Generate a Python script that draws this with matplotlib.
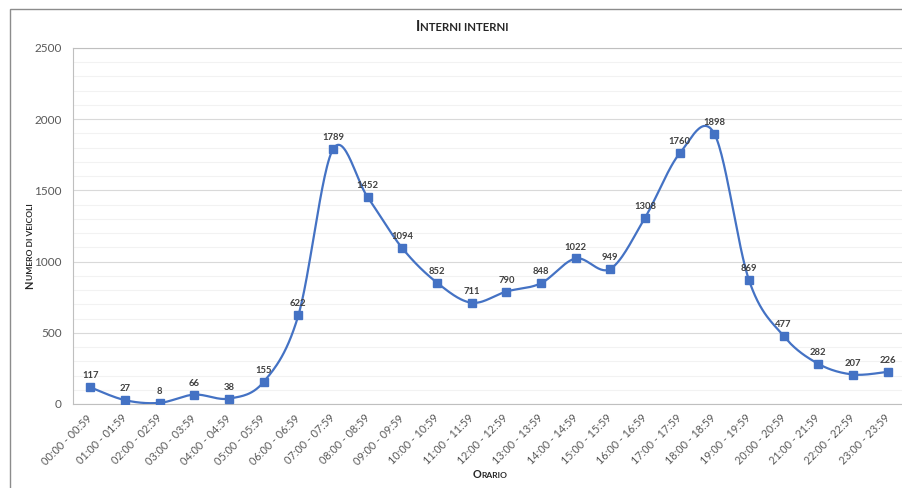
import numpy as np
import matplotlib
matplotlib.use("Agg")
import matplotlib.pyplot as plt
from matplotlib.transforms import IdentityTransform, ScaledTranslation
from matplotlib.patches import Rectangle

plt.rcParams["font.family"] = ["Lato", "DejaVu Sans"]

fasce = [
    "00:00 - 00:59", "01:00 - 01:59", "02:00 - 02:59", "03:00 - 03:59",
    "04:00 - 04:59", "05:00 - 05:59", "06:00 - 06:59", "07:00 - 07:59",
    "08:00 - 08:59", "09:00 - 09:59", "10:00 - 10:59", "11:00 - 11:59",
    "12:00 - 12:59", "13:00 - 13:59", "14:00 - 14:59", "15:00 - 15:59",
    "16:00 - 16:59", "17:00 - 17:59", "18:00 - 18:59", "19:00 - 19:59",
    "20:00 - 20:59", "21:00 - 21:59", "22:00 - 22:59", "23:00 - 23:59",
]
veicoli = [117, 27, 8, 66, 38, 155, 622, 1789, 1452, 1094, 852, 711,
           790, 848, 1022, 949, 1308, 1760, 1898, 869, 477, 282, 207, 226]

titolo = "Interni interni"
label_x = "Orario"
label_y = "Numero di veicoli"

BLUE = "#4472C4"


def smooth(x, y, n=30):
    # Excel-like smoothed line (Catmull-Rom through every point)
    x = np.asarray(x, float)
    y = np.asarray(y, float)
    px = np.concatenate([[x[0]], x, [x[-1]]])
    py = np.concatenate([[y[0]], y, [y[-1]]])
    xs, ys = [], []
    t = np.linspace(0, 1, n)
    for i in range(1, len(px) - 2):
        p0, p1, p2, p3 = [np.array([px[j], py[j]]) for j in range(i - 1, i + 3)]
        c1 = p1 + (p2 - p0) / 6
        c2 = p2 - (p3 - p1) / 6
        pts = ((1 - t) ** 3)[:, None] * p1 + (3 * (1 - t) ** 2 * t)[:, None] * c1 \
            + (3 * (1 - t) * t ** 2)[:, None] * c2 + (t ** 3)[:, None] * p2
        xs.extend(pts[:, 0])
        ys.extend(pts[:, 1])
    return np.array(xs), np.array(ys)


def smallcaps(fig, x, y, text, size, rotation=0, color="#262626"):
    # draw text in small caps, centred on (x, y) in pixels
    runs = []
    for ch in text:
        big = ch.isupper()
        if runs and runs[-1][1] == big:
            runs[-1][0] += ch.upper()
        else:
            runs.append([ch.upper(), big])
    renderer = fig.canvas.get_renderer()
    widths = []
    for s, big in runs:
        t = fig.text(0, 0, s, fontsize=size if big else size * 0.78,
                     fontweight="bold", transform=IdentityTransform())
        widths.append(t.get_window_extent(renderer).width)
        t.remove()
    total = sum(widths)
    pos = -total / 2
    for (s, big), w in zip(runs, widths):
        if rotation == 0:
            px, py = x + pos, y
        else:
            px, py = x, y + pos
        fig.text(px, py, s, fontsize=size if big else size * 0.78,
                 fontweight="bold", color=color, rotation=rotation,
                 rotation_mode="anchor", ha="left", va="baseline",
                 transform=IdentityTransform())
        pos += w


W, H = 903, 488
fig = plt.figure(figsize=(W / 100, H / 100), dpi=100)
ax = fig.add_axes([73 / W, 1 - 404 / H, (905 - 73) / W, (404 - 48) / H])

xs = np.arange(len(veicoli))
sx, sy = smooth(xs, veicoli)
ax.plot(sx, sy, color=BLUE, lw=1.6, zorder=3, solid_capstyle="round")
ax.plot(xs, veicoli, ls="none", marker="s", ms=5.5, color=BLUE, zorder=4)

for i, v in enumerate(veicoli):
    ax.annotate(str(v), (i, v), xytext=(0, 5), textcoords="offset points",
                ha="center", va="bottom", fontsize=6.8, fontweight="bold",
                color="#404040", zorder=5)

ax.set_xlim(-0.5, 23.5)
ax.set_ylim(0, 2500)
ax.set_yticks(np.arange(0, 2501, 500))
ax.set_yticks(np.arange(0, 2501, 100), minor=True)
ax.grid(True, which="major", axis="y", color="#D9D9D9", lw=0.8)
ax.grid(True, which="minor", axis="y", color="#F2F2F2", lw=0.8)
ax.set_axisbelow(True)

ax.set_xticks(xs)
ax.set_xticklabels(fasce, rotation=45, ha="right", va="center",
                   rotation_mode="anchor")
for lbl in ax.get_xticklabels():
    lbl.set_transform(lbl.get_transform() + ScaledTranslation(5 / 100, 0, fig.dpi_scale_trans))
ax.tick_params(axis="x", length=0, pad=9, labelsize=7.8, labelcolor="#595959")
ax.tick_params(axis="y", which="both", length=0, pad=8, labelsize=8.5,
               labelcolor="#595959")

for side in ["left", "bottom", "top", "right"]:
    ax.spines[side].set_color("#BFBFBF")
    ax.spines[side].set_linewidth(0.8)

# outer chart border
fig.patches.append(Rectangle((10 / W, -0.1), 1.2, 1 - 9 / H + 0.1,
                             transform=fig.transFigure, fill=False,
                             edgecolor="#8C8C8C", lw=1.0))

smallcaps(fig, 462, H - 31, titolo, 10.5)
smallcaps(fig, 490, H - 478, label_x, 7.8)
smallcaps(fig, 33, H - 246, label_y, 7.8, rotation=90)

fig.savefig("out.png", dpi=100)
